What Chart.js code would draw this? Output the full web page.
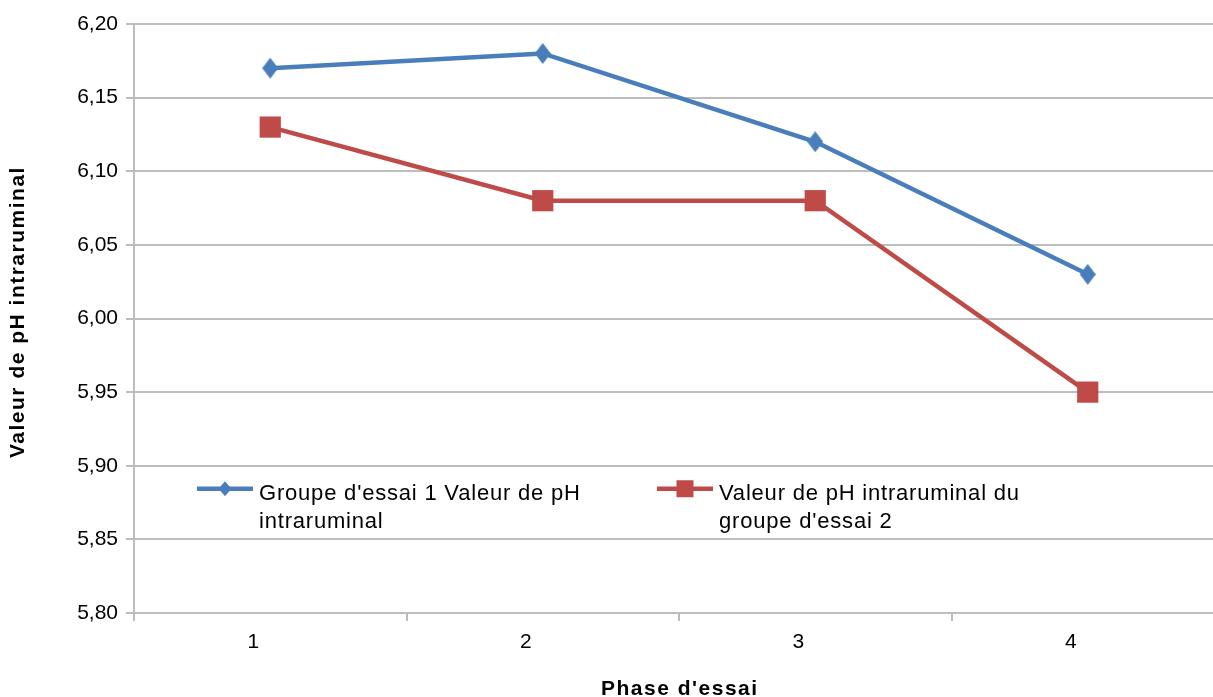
<!DOCTYPE html>
<html>
<head>
<meta charset="utf-8">
<script src="https://cdn.jsdelivr.net/npm/chart.js@4"></script>
<style>
  html, body { margin: 0; padding: 0; background: #ffffff; overflow: hidden; }
  #c { display: block; }
</style>
</head>
<body>
<canvas id="c" width="1239" height="697" style="width:1239px;height:697px"></canvas>
<script>
// Phases of the trial and intraruminal pH per test group
const phases = ['1', '2', '3', '4'];
const groupe1 = [6.17, 6.18, 6.12, 6.03];
const groupe2 = [6.13, 6.08, 6.08, 5.95];
const yTicks = [5.80, 5.85, 5.90, 5.95, 6.00, 6.05, 6.10, 6.15, 6.20];
const legendLines = [
  ["Groupe d'essai 1 Valeur de pH", 'intraruminal'],
  ['Valeur de pH intraruminal du', "groupe d'essai 2"]
];
const xTitle = "Phase d'essai";
const yTitle = 'Valeur de pH intraruminal';

const FONT = 'Liberation Sans, Arial, sans-serif';
const BLUE = '#4a7ebb';
const RED = '#be4b48';
const GRID = '#bdbdbd';

// Tall diamond marker (narrower than it is high)
function diamondMarker(w, h, color) {
  const cv = document.createElement('canvas');
  cv.width = w; cv.height = h;
  const g = cv.getContext('2d');
  g.fillStyle = color;
  g.beginPath();
  g.moveTo(w / 2, 0);
  g.lineTo(w, h / 2);
  g.lineTo(w / 2, h);
  g.lineTo(0, h / 2);
  g.closePath();
  g.fill();
  return cv;
}

// Axis titles and the two-line legend, drawn as text on the chart canvas
const annotations = {
  id: 'annotations',
  afterDraw(chart) {
    const ctx = chart.ctx;
    const area = chart.chartArea;
    const yScale = chart.scales.y;
    ctx.save();

    // axis titles
    ctx.fillStyle = '#000000';
    ctx.font = 'bold 21px ' + FONT;
    ctx.letterSpacing = '1.5px';
    ctx.textBaseline = 'alphabetic';
    ctx.textAlign = 'left';
    ctx.fillText(xTitle, 601, 695);
    ctx.save();
    ctx.translate(24, 458);
    ctx.rotate(-Math.PI / 2);
    ctx.fillText(yTitle, 0, 0);
    ctx.restore();

    // legend
    const ds = chart.data.datasets;
    const y0 = yScale.getPixelForValue(5.90) + 23;
    const items = [
      { x: area.left + 63, d: ds[0], lines: legendLines[0], marker: 'diamond' },
      { x: area.left + 523, d: ds[1], lines: legendLines[1], marker: 'square' }
    ];
    items.forEach(it => {
      ctx.strokeStyle = it.d.borderColor;
      ctx.lineWidth = it.d.borderWidth;
      ctx.beginPath();
      ctx.moveTo(it.x, y0);
      ctx.lineTo(it.x + 56, y0);
      ctx.stroke();
      const cx = it.x + 28;
      ctx.fillStyle = it.d.borderColor;
      ctx.beginPath();
      if (it.marker === 'diamond') {
        ctx.moveTo(cx, y0 - 7.5);
        ctx.lineTo(cx + 6.5, y0);
        ctx.lineTo(cx, y0 + 7.5);
        ctx.lineTo(cx - 6.5, y0);
        ctx.closePath();
      } else {
        ctx.rect(cx - 8.5, y0 - 8.5, 17, 17);
      }
      ctx.fill();
      ctx.fillStyle = '#000000';
      ctx.font = '22px ' + FONT;
      ctx.letterSpacing = '0.8px';
      ctx.textBaseline = 'alphabetic';
      ctx.textAlign = 'left';
      it.lines.forEach((t, i) => ctx.fillText(t, it.x + 62, y0 + 11 + i * 28));
    });
    ctx.restore();
  }
};

new Chart(document.getElementById('c'), {
  type: 'line',
  data: {
    labels: phases,
    datasets: [
      {
        label: legendLines[0].join(' '),
        data: groupe1,
        borderColor: BLUE,
        backgroundColor: BLUE,
        borderWidth: 4.5,
        pointStyle: diamondMarker(16, 21, BLUE),
        tension: 0
      },
      {
        label: legendLines[1].join(' '),
        data: groupe2,
        borderColor: RED,
        backgroundColor: RED,
        pointBackgroundColor: RED,
        pointBorderColor: RED,
        pointBorderWidth: 0,
        borderWidth: 4.5,
        pointStyle: 'rect',
        pointRadius: 15,
        pointHoverRadius: 15,
        tension: 0
      }
    ]
  },
  options: {
    responsive: false,
    animation: false,
    events: [],
    layout: { padding: { top: 24, right: 0, left: 0, bottom: 0 } },
    plugins: {
      legend: { display: false },
      tooltip: { enabled: false }
    },
    scales: {
      x: {
        offset: true,
        grid: {
          offset: true,
          drawOnChartArea: false,
          drawTicks: true,
          tickLength: 8,
          color: GRID,
          lineWidth: 2
        },
        border: { display: true, color: GRID, width: 2 },
        ticks: {
          color: '#000000',
          font: { family: FONT, size: 21 },
          padding: 9,
          labelOffset: -17,
          maxRotation: 0
        },
        title: { display: false },
        afterFit(scale) { scale.height = 84; }
      },
      y: {
        min: 5.80,
        max: 6.20,
        afterBuildTicks(scale) {
          scale.ticks = yTicks.map(v => ({ value: v }));
        },
        grid: {
          color: GRID,
          lineWidth: 2,
          tickLength: 8,
          drawTicks: true
        },
        border: { display: true, color: GRID, width: 2 },
        ticks: {
          color: '#000000',
          font: { family: FONT, size: 21 },
          padding: 8,
          callback: v => v.toFixed(2).replace('.', ',')
        },
        title: { display: false },
        afterFit(scale) { scale.width = 134; }
      }
    }
  },
  plugins: [annotations]
});
</script>
</body>
</html>
